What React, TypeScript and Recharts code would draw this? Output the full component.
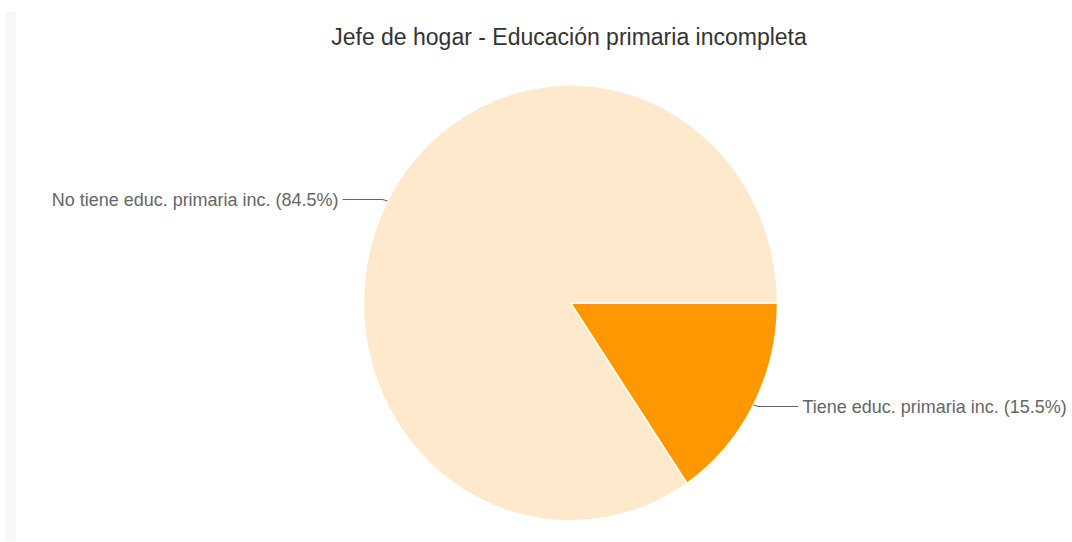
import { Cell, Pie, PieChart } from "recharts";

const CATEGORIES = ["Tiene educ. primaria inc.", "No tiene educ. primaria inc."];
const PERCENTS = [15.5, 84.5];
const COLORS = ["#ff9800", "#ffe9cc"];
const TITLE = "Jefe de hogar - Educación primaria incompleta";

const WIDTH = 1072;
const HEIGHT = 542;
// the reference pie is a bit taller than wide, so the chart is stretched vertically
const STRETCH = 1.053;
const CX = 570.5;
const CY = 303 / STRETCH;
const RADIUS = 207;
const LINE_LEN = 45;
const FONT = "'Liberation Sans', Arial, sans-serif";

const data = CATEGORIES.map((name, i) => ({ name, value: PERCENTS[i] }));

const RAD = Math.PI / 180;

function renderLabel(props: any): React.ReactElement {
  const { cx, cy, midAngle, outerRadius, name, value } = props;
  const x0 = cx + outerRadius * Math.cos(-midAngle * RAD);
  const y0 = cy + outerRadius * Math.sin(-midAngle * RAD);
  const dir = x0 >= cx ? 1 : -1;
  const yl = y0 + dir * 1.5;
  const x1 = x0 + dir * 5;
  const x2 = x0 + dir * LINE_LEN;
  return (
    <g>
      <path d={`M${x0},${y0} L${x1},${yl} L${x2},${yl}`} stroke="#666" strokeWidth={1} fill="none" />
      <text
        x={x2 + dir * 4}
        y={yl}
        textAnchor={dir > 0 ? "start" : "end"}
        dominantBaseline="central"
        fill="#666"
        fontSize={18}
        fontFamily={FONT}
      >
        {`${name} (${value.toFixed(1)}%)`}
      </text>
    </g>
  );
}

export default function App(): React.ReactElement {
  return (
    <div style={{ position: "absolute", left: 0, top: 0, width: WIDTH, height: HEIGHT, background: "#fff", overflow: "hidden" }}>
      <div style={{ position: "absolute", left: 6, top: 12, width: 10, height: HEIGHT - 12, background: "#f7f7f7" }} />
      <div
        style={{
          position: "absolute",
          left: 0,
          top: 0,
          width: WIDTH,
          height: HEIGHT / STRETCH,
          transform: `scaleY(${STRETCH})`,
          transformOrigin: "0 0",
        }}
      >
        <PieChart width={WIDTH} height={Math.round(HEIGHT / STRETCH)} margin={{ top: 0, right: 0, bottom: 0, left: 0 }}>
          <Pie
            data={data}
            dataKey="value"
            nameKey="name"
            cx={CX}
            cy={CY}
            outerRadius={RADIUS}
            startAngle={0}
            endAngle={-360}
            stroke="#fff"
            strokeWidth={1.5}
            label={renderLabel}
            labelLine={false}
            isAnimationActive={false}
          >
            {data.map((d, i) => (
              <Cell key={d.name} fill={COLORS[i]} />
            ))}
          </Pie>
        </PieChart>
      </div>
      <div
        style={{
          position: "absolute",
          left: 0,
          top: 22,
          width: 1138,
          textAlign: "center",
          fontFamily: FONT,
          fontSize: 23,
          lineHeight: "30px",
          color: "#333",
        }}
      >
        {TITLE}
      </div>
    </div>
  );
}
